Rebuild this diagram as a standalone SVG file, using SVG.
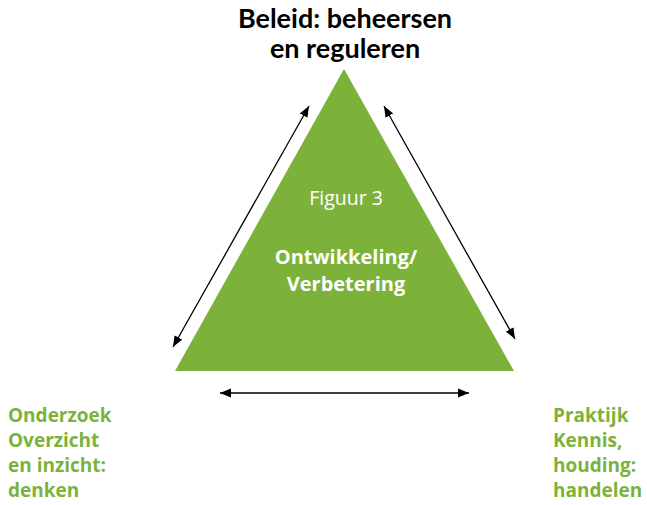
<svg xmlns="http://www.w3.org/2000/svg" width="647" height="505" viewBox="0 0 647 505">
<style>
.t{font-family:"Open Sans","Liberation Sans",sans-serif;}
.b{font-weight:700;}
.g{fill:#7cb23a;font-size:19px;font-weight:700;}
.w{fill:#ffffff;}
.k{fill:#000000;font-size:27px;font-weight:700;font-family:Lato,"Open Sans",sans-serif;}
.c{stroke:#000;stroke-width:1.3;fill:none;marker-start:url(#a);marker-end:url(#a);}
</style>
<defs>
<marker id="a" viewBox="0 0 10 10" refX="10" refY="5" markerWidth="11" markerHeight="11" markerUnits="userSpaceOnUse" orient="auto-start-reverse">
<path d="M0,1 L10,5 L0,9 z" fill="#000"/>
</marker>
</defs>
<rect width="647" height="505" fill="#fff"/>
<g id="title">
<text class="k" x="345" y="28" text-anchor="middle">Beleid: beheersen</text>
<text class="k" x="345" y="58" text-anchor="middle">en reguleren</text>
</g>
<g id="triangle">
<polygon points="344,69 175,371 514,371" fill="#7cb23a"/>
<text class="t w" x="346" y="205" font-size="19.5" font-weight="400" text-anchor="middle">Figuur 3</text>
<text class="t w b" x="346" y="264" font-size="20" text-anchor="middle">Ontwikkeling/</text>
<text class="t w b" x="346" y="291" font-size="20" text-anchor="middle">Verbetering</text>
</g>
<g id="left-label">
<text class="t g" x="8" y="422">Onderzoek</text>
<text class="t g" x="8" y="447">Overzicht</text>
<text class="t g" x="8" y="472">en inzicht:</text>
<text class="t g" x="8" y="497">denken</text>
</g>
<g id="right-label">
<text class="t g" x="553" y="422">Praktijk</text>
<text class="t g" x="553" y="447">Kennis,</text>
<text class="t g" x="553" y="472">houding:</text>
<text class="t g" x="553" y="497">handelen</text>
</g>
<g id="connectors">
<line class="c" x1="309" y1="106" x2="173" y2="347"/>
<line class="c" x1="384" y1="106" x2="515" y2="339"/>
<line class="c" x1="220" y1="393" x2="469" y2="393"/>
</g>
</svg>
